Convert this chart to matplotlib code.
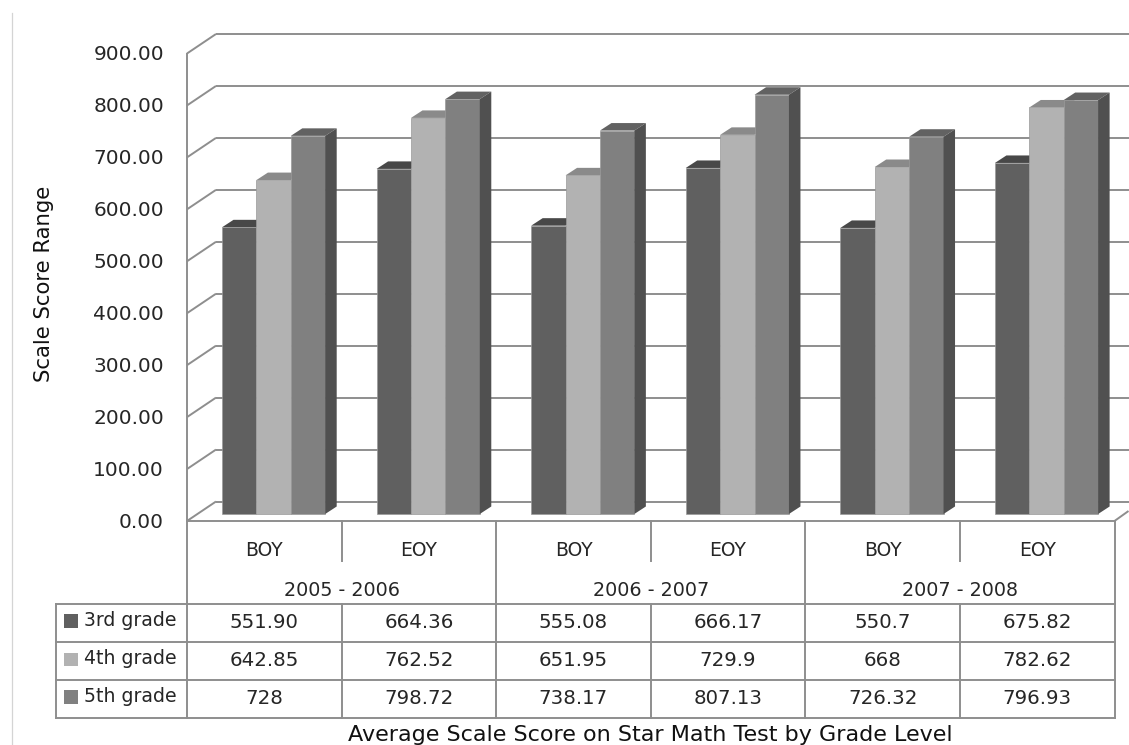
import matplotlib
matplotlib.use("Agg")
import matplotlib.pyplot as plt
from matplotlib.patches import Polygon, Rectangle

W, H = 1129, 745

years = ["2005 - 2006", "2006 - 2007", "2007 - 2008"]
terms = ["BOY", "EOY", "BOY", "EOY", "BOY", "EOY"]
grades = ["3rd grade", "4th grade", "5th grade"]
grade3 = [551.90, 664.36, 555.08, 666.17, 550.7, 675.82]
grade4 = [642.85, 762.52, 651.95, 729.9, 668, 782.62]
grade5 = [728, 798.72, 738.17, 807.13, 726.32, 796.93]
grade3_text = ["551.90", "664.36", "555.08", "666.17", "550.7", "675.82"]
grade4_text = ["642.85", "762.52", "651.95", "729.9", "668", "782.62"]
grade5_text = ["728", "798.72", "738.17", "807.13", "726.32", "796.93"]
yticks = [0, 100, 200, 300, 400, 500, 600, 700, 800, 900]

front_col = ["#606060", "#b2b2b2", "#808080"]
top_col = ["#484848", "#8a8a8a", "#626262"]
side_col = ["#474747", "#858585", "#505050"]
GRID = "#8e8e8e"
TXT = "#262626"
FONT = "DejaVu Sans"

# plot area lines up with the front plane of the 3d box
X0, X1 = 187, 1114.5
Y0, Y900 = 521, 53.5
px_x = (X1 - X0) / 6      # pixels per category
px_y = (Y0 - Y900) / 900  # pixels per score unit

fig = plt.figure(figsize=(W / 100, H / 100), dpi=100, facecolor="white")
ax = fig.add_axes([X0 / W, 1 - Y0 / H, (X1 - X0) / W, (Y0 - Y900) / H])
ax.set_xlim(0, 6)
ax.set_ylim(0, 900)
ax.axis("off")

wall_dx = 29 / px_x
wall_dy = 19.5 / px_y
bar_dx = 11.5 / px_x
bar_dy = 7.5 / px_y
lift = 7 / px_y
bar_w = 34.4 / px_x
bar_off = 35 / px_x


def line(xs, ys, lw=1.4, z=1):
    ax.plot(xs, ys, color=GRID, lw=lw, clip_on=False, zorder=z,
            solid_capstyle="butt")


# back wall, floor and left side
for t in yticks:
    line([0, wall_dx], [t, t + wall_dy])
    line([wall_dx, (W - X0) / px_x], [t + wall_dy, t + wall_dy])
line([0, 0], [0, 900])
line([6, 6 + 14 / px_x], [0, 10 / px_y])
for t in yticks:
    ax.text(-23 / px_x, t - 1.5 / px_y, f"{t:.2f}", ha="right", va="center",
            family=FONT, fontsize=14.5, color=TXT, clip_on=False)

# bars with their top and side faces
for k, vals in enumerate([grade3, grade4, grade5]):
    xs = [i + bar_off + k * bar_w for i in range(6)]
    ax.bar(xs, vals, width=bar_w, bottom=lift, align="edge", color=front_col[k],
           edgecolor="#9a9a9a", linewidth=0.5, zorder=3 + k)
    for x, v in zip(xs, vals):
        y = v + lift
        ax.add_patch(Polygon([(x, y), (x + bar_w, y), (x + bar_w + bar_dx, y + bar_dy),
                              (x + bar_dx, y + bar_dy)], closed=True, fc=top_col[k],
                             ec="none", zorder=2.5 + k))
        if k == 2:
            ax.add_patch(Polygon([(x + bar_w, lift), (x + bar_w + bar_dx, lift + bar_dy),
                                  (x + bar_w + bar_dx, y + bar_dy), (x + bar_w, y)],
                                 closed=True, fc=side_col[k], ec="none", zorder=6))

# data table below the axis, laid out in pixels
tb = fig.add_axes([0, 0, 1, 1], facecolor="none")
tb.set_xlim(0, W)
tb.set_ylim(H, 0)
tb.axis("off")


def tline(xs, ys, color=GRID, lw=1.4):
    tb.plot(xs, ys, color=color, lw=lw, solid_capstyle="projecting")


col_x = [X0 + i * px_x for i in range(7)]
rows_y = [603.5, 642, 680, 717.5]
TBL_L = 55.5

tb.plot([11.5, 11.5], [13, H], color="#d4d4d4", lw=0.9)
tline([X0, X1], [Y0, Y0])
for y in rows_y:
    tline([TBL_L, X1], [y, y])
tline([TBL_L, TBL_L], [rows_y[0], rows_y[-1]])
for i, x in enumerate(col_x):
    if i % 2 == 0:
        tline([x, x], [Y0, rows_y[-1]])
    else:
        tline([x, x], [Y0, 561])
        tline([x, x], [rows_y[0], rows_y[-1]])

for i, term in enumerate(terms):
    tb.text(col_x[i] + px_x / 2, 550, term, ha="center", va="center",
            family=FONT, fontsize=13.5, color=TXT)
for i, year in enumerate(years):
    tb.text(col_x[2 * i] + px_x, 590.5, year, ha="center", va="center",
            family=FONT, fontsize=13.8, color=TXT)

table_text = [grade3_text, grade4_text, grade5_text]
for r, name in enumerate(grades):
    yc = (rows_y[r] + rows_y[r + 1]) / 2
    tb.add_patch(Rectangle((64, yc - 8.5), 13.5, 13.5, fc=front_col[r], ec="none"))
    tb.text(84.5, yc - 2, name, ha="left", va="center", family=FONT,
            fontsize=13.6, color=TXT)
    for i, s in enumerate(table_text[r]):
        tb.text(col_x[i] + px_x / 2, yc, s, ha="center", va="center",
                family=FONT, fontsize=14.2, color=TXT)

tb.text(44, 284, "Scale Score Range", rotation=90, ha="center", va="center",
        family=FONT, fontsize=15.3, color="#111111")
tb.text(650, 741, "Average Scale Score on Star Math Test by Grade Level", ha="center",
        va="baseline", family=FONT, fontsize=16, color="#111111")

fig.savefig("out.png", dpi=100)
